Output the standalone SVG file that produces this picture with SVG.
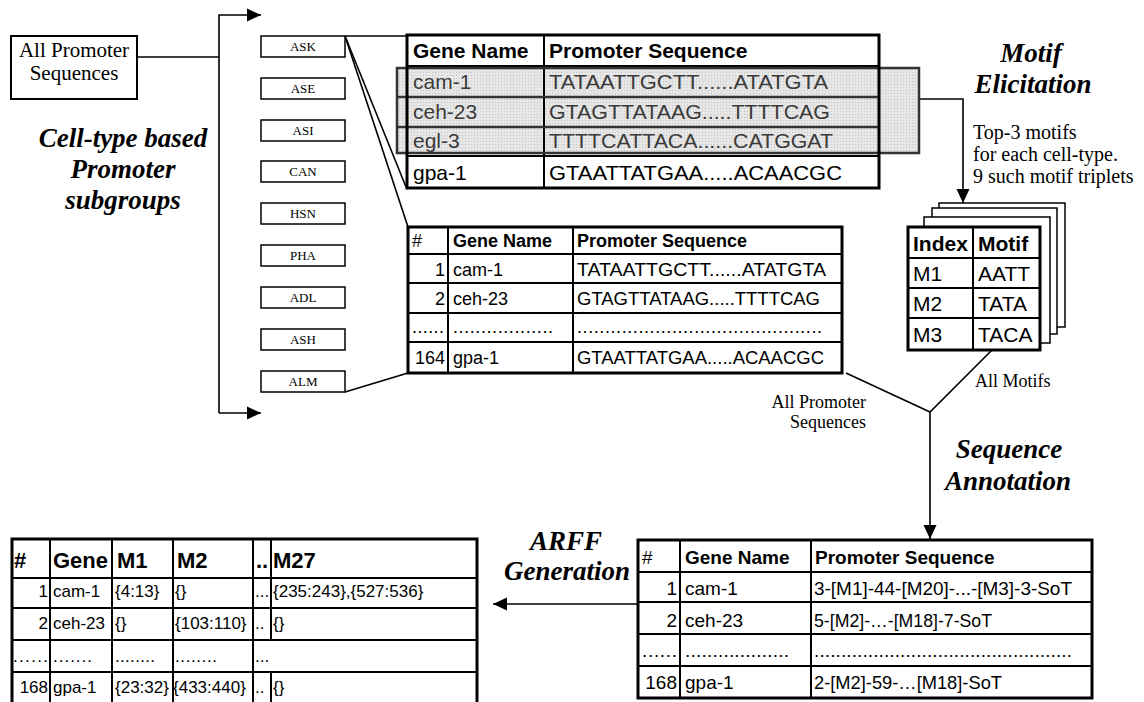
<svg xmlns="http://www.w3.org/2000/svg" width="1144" height="702" viewBox="0 0 1144 702">
<defs>
<marker id="ah" markerUnits="userSpaceOnUse" markerWidth="14" markerHeight="14" refX="14" refY="7" orient="auto"><path d="M0,0.5 L14,7 L0,13.5 Z" fill="#000"/></marker>
<pattern id="dots" width="3" height="3" patternUnits="userSpaceOnUse"><rect width="3" height="3" fill="#e6e6e6"/><rect width="1" height="1" fill="#c4c4c4"/></pattern>
</defs>
<style>
.serif{font-family:"Liberation Serif","Times New Roman",serif;fill:#000}
.head{font-family:"Liberation Serif","Times New Roman",serif;font-weight:bold;font-style:italic;font-size:27px;text-anchor:middle;fill:#000}
.sans{font-family:"Liberation Sans",Arial,sans-serif;fill:#000}
.b{font-weight:bold}
.r{text-anchor:end}
.m{text-anchor:middle}
.cell{fill:#fff;stroke:#000;stroke-width:1.5}
.lbl{font-family:"Liberation Serif","Times New Roman",serif;font-size:13px;text-anchor:middle;fill:#000}
.tbo{fill:none;stroke:#000;stroke-width:3}
.ln{stroke:#000;stroke-width:2;fill:none}
.conn{stroke:#000;stroke-width:1.6;fill:none}
.sheet{fill:#fff;stroke:#000;stroke-width:1.5}
.g{fill:#3a3a3a}
</style>

<g id="connectors">
<path class="conn" d="M137,57 L219,57"/>
<path class="conn" d="M219,413 L219,15 L261,15" marker-end="url(#ah)"/>
<path class="conn" d="M219,413 L261,413" marker-end="url(#ah)"/>
<path class="conn" d="M345,36 L407,36"/>
<path class="conn" d="M345,36 L406,187"/>
<path class="conn" d="M345,36 L408,227"/>
<path class="conn" d="M345,392 L408,373"/>
<path class="conn" d="M919,99 L963,99 L963,203" marker-end="url(#ah)"/>
<path class="conn" d="M846,373 L930,412 L992,350"/>
<path class="conn" d="M930,412 L930,539" marker-end="url(#ah)"/>
<path class="conn" d="M638,604 L493,604" marker-end="url(#ah)"/>
</g>

<g id="all-promoters">
<rect x="11" y="36" width="126" height="63" fill="#fff" stroke="#000" stroke-width="2"/>
<text class="serif m" x="74" y="57" font-size="21">All Promoter</text>
<text class="serif m" x="74" y="80" font-size="21">Sequences</text>
</g>

<g id="label-celltype">
<text class="head" x="123" y="147">Cell-type based</text>
<text class="head" x="123" y="178">Promoter</text>
<text class="head" x="123" y="209">subgroups</text>
</g>

<g id="cell-ASK"><rect class="cell" x="261" y="36" width="84" height="21"/><text class="lbl" x="303" y="51">ASK</text></g>
<g id="cell-ASE"><rect class="cell" x="261" y="78" width="84" height="21"/><text class="lbl" x="303" y="93">ASE</text></g>
<g id="cell-ASI"><rect class="cell" x="261" y="120" width="84" height="21"/><text class="lbl" x="303" y="135">ASI</text></g>
<g id="cell-CAN"><rect class="cell" x="261" y="161" width="84" height="21"/><text class="lbl" x="303" y="176">CAN</text></g>
<g id="cell-HSN"><rect class="cell" x="261" y="203" width="84" height="21"/><text class="lbl" x="303" y="218">HSN</text></g>
<g id="cell-PHA"><rect class="cell" x="261" y="245" width="84" height="21"/><text class="lbl" x="303" y="260">PHA</text></g>
<g id="cell-ADL"><rect class="cell" x="261" y="287" width="84" height="21"/><text class="lbl" x="303" y="302">ADL</text></g>
<g id="cell-ASH"><rect class="cell" x="261" y="329" width="84" height="21"/><text class="lbl" x="303" y="344">ASH</text></g>
<g id="cell-ALM"><rect class="cell" x="261" y="371" width="84" height="21"/><text class="lbl" x="303" y="386">ALM</text></g>

<g id="ask-table">
<rect x="407" y="35" width="472" height="153" fill="#fff"/>
<rect x="397" y="68" width="522" height="85" fill="url(#dots)"/>
<path class="ln" d="M407,66 H879 M407,156 H879 M544,35 V188"/>
<path d="M397,97 H879 M397,127 H879" stroke="#333" stroke-width="2.5" fill="none"/>
<text class="sans b" x="413" y="58" font-size="21">Gene Name</text>
<text class="sans b" x="549" y="58" font-size="21">Promoter Sequence</text>
<text class="sans g" x="413" y="89" font-size="21">cam-1</text>
<text class="sans g" x="549" y="89" font-size="21" textLength="279" lengthAdjust="spacingAndGlyphs">TATAATTGCTT......ATATGTA</text>
<text class="sans g" x="413" y="119" font-size="21">ceh-23</text>
<text class="sans g" x="549" y="119" font-size="21" textLength="281" lengthAdjust="spacingAndGlyphs">GTAGTTATAAG.....TTTTCAG</text>
<text class="sans g" x="413" y="148" font-size="21">egl-3</text>
<text class="sans g" x="549" y="148" font-size="21" textLength="284" lengthAdjust="spacingAndGlyphs">TTTTCATTACA......CATGGAT</text>
<text class="sans" x="413" y="180" font-size="21">gpa-1</text>
<text class="sans" x="549" y="180" font-size="21" textLength="293" lengthAdjust="spacingAndGlyphs">GTAATTATGAA.....ACAACGC</text>
<rect x="397" y="68" width="522" height="85" fill="none" stroke="#333" stroke-width="2.5"/>
<rect class="tbo" x="407" y="35" width="472" height="153"/>
</g>

<g id="full-table">
<rect x="408" y="227" width="434" height="146" fill="#fff"/>
<path class="ln" d="M408,254 H842 M408,283 H842 M408,313 H842 M408,342 H842 M448,227 V373 M573,227 V373"/>
<text class="sans" x="412" y="247" font-size="18">#</text>
<text class="sans b" x="453" y="247" font-size="18">Gene Name</text>
<text class="sans b" x="577" y="247" font-size="18">Promoter Sequence</text>
<text class="sans r" x="445" y="276" font-size="18">1</text>
<text class="sans" x="453" y="276" font-size="18">cam-1</text>
<text class="sans" x="577" y="276" font-size="18" textLength="249" lengthAdjust="spacingAndGlyphs">TATAATTGCTT......ATATGTA</text>
<text class="sans r" x="445" y="305" font-size="18">2</text>
<text class="sans" x="453" y="305" font-size="18">ceh-23</text>
<text class="sans" x="577" y="305" font-size="18" textLength="243" lengthAdjust="spacingAndGlyphs">GTAGTTATAAG.....TTTTCAG</text>
<text class="sans" x="412" y="333" font-size="18" textLength="32" lengthAdjust="spacing">......</text>
<text class="sans" x="453" y="333" font-size="18" textLength="100" lengthAdjust="spacing">..................</text>
<text class="sans" x="577" y="333" font-size="18" textLength="245" lengthAdjust="spacing">............................................</text>
<text class="sans r" x="445" y="364" font-size="18">164</text>
<text class="sans" x="453" y="364" font-size="18">gpa-1</text>
<text class="sans" x="577" y="364" font-size="18" textLength="247" lengthAdjust="spacingAndGlyphs">GTAATTATGAA.....ACAACGC</text>
<rect class="tbo" x="408" y="227" width="434" height="146"/>
</g>

<g id="label-motif-elicitation">
<text class="head" x="1031" y="62">Motif</text>
<text class="head" x="1033" y="93">Elicitation</text>
<text class="serif" x="973" y="139" font-size="20">Top-3 motifs</text>
<text class="serif" x="973" y="161" font-size="20">for each cell-type.</text>
<text class="serif" x="973" y="183" font-size="20">9 such motif triplets</text>
</g>

<g id="motif-stack">
<rect class="sheet" x="939" y="203" width="126" height="124"/>
<rect class="sheet" x="932" y="208" width="125" height="126"/>
<rect class="sheet" x="924" y="217" width="126" height="126"/>
<rect x="908" y="227" width="132" height="123" fill="#fff"/>
<path class="ln" d="M908,258 H1040 M908,288 H1040 M908,318 H1040 M973,227 V350"/>
<text class="sans b" x="913" y="251" font-size="21">Index</text>
<text class="sans b" x="978" y="251" font-size="21">Motif</text>
<text class="sans" x="913" y="281" font-size="21">M1</text>
<text class="sans" x="978" y="281" font-size="21">AATT</text>
<text class="sans" x="913" y="311" font-size="21">M2</text>
<text class="sans" x="978" y="311" font-size="21">TATA</text>
<text class="sans" x="913" y="342" font-size="21">M3</text>
<text class="sans" x="978" y="342" font-size="21">TACA</text>
<rect class="tbo" x="908" y="227" width="132" height="123"/>
</g>

<g id="label-inputs">
<text class="serif" x="975" y="387" font-size="18">All Motifs</text>
<text class="serif r" x="866" y="408" font-size="18">All Promoter</text>
<text class="serif r" x="866" y="428" font-size="18">Sequences</text>
</g>

<g id="label-sequence-annotation">
<text class="head" x="1009" y="458">Sequence</text>
<text class="head" x="1008" y="490">Annotation</text>
</g>

<g id="annotated-table">
<rect x="638" y="540" width="454" height="158" fill="#fff"/>
<path class="ln" d="M638,572 H1092 M638,602 H1092 M638,634 H1092 M638,666 H1092 M680,540 V698 M811,540 V698"/>
<text class="sans" x="642" y="564" font-size="19">#</text>
<text class="sans b" x="685" y="564" font-size="19">Gene Name</text>
<text class="sans b" x="815" y="564" font-size="19">Promoter Sequence</text>
<text class="sans r" x="677" y="595" font-size="19">1</text>
<text class="sans" x="685" y="595" font-size="19">cam-1</text>
<text class="sans" x="814" y="595" font-size="19" textLength="258" lengthAdjust="spacingAndGlyphs">3-[M1]-44-[M20]-...-[M3]-3-SoT</text>
<text class="sans r" x="677" y="627" font-size="19">2</text>
<text class="sans" x="685" y="627" font-size="19">ceh-23</text>
<text class="sans" x="814" y="627" font-size="19" textLength="178" lengthAdjust="spacingAndGlyphs">5-[M2]-…-[M18]-7-SoT</text>
<text class="sans" x="642" y="657" font-size="19" textLength="35" lengthAdjust="spacing">......</text>
<text class="sans" x="685" y="657" font-size="19" textLength="104" lengthAdjust="spacing">...................</text>
<text class="sans" x="814" y="657" font-size="19" textLength="258" lengthAdjust="spacing">................................................</text>
<text class="sans r" x="677" y="689" font-size="19">168</text>
<text class="sans" x="685" y="689" font-size="19">gpa-1</text>
<text class="sans" x="814" y="689" font-size="19" textLength="188" lengthAdjust="spacingAndGlyphs">2-[M2]-59-…[M18]-SoT</text>
<rect class="tbo" x="638" y="540" width="454" height="158"/>
</g>

<g id="label-arff">
<text class="head" x="566" y="550">ARFF</text>
<text class="head" x="567" y="580">Generation</text>
</g>

<g id="arff-table">
<rect x="12" y="539" width="465" height="166" fill="#fff"/>
<path class="ln" d="M12,578 H477 M12,608 H477 M12,640 H477 M12,672 H477 M50,539 V705 M112,539 V705 M173,539 V705 M253,539 V705 M271,539 V640 M271,672 V705"/>
<text class="sans b" x="14" y="568" font-size="22">#</text>
<text class="sans b" x="53" y="568" font-size="22">Gene</text>
<text class="sans b" x="117" y="568" font-size="22">M1</text>
<text class="sans b" x="177" y="568" font-size="22">M2</text>
<text class="sans b" x="256" y="568" font-size="22">..</text>
<text class="sans b" x="273" y="568" font-size="22">M27</text>
<text class="sans r" x="48" y="597" font-size="17">1</text>
<text class="sans" x="53" y="597" font-size="17">cam-1</text>
<text class="sans" x="115" y="597" font-size="17">{4:13}</text>
<text class="sans" x="175" y="597" font-size="17">{}</text>
<text class="sans" x="255" y="597" font-size="17">...</text>
<text class="sans" x="273" y="597" font-size="17">{235:243},{527:536}</text>
<text class="sans r" x="48" y="629" font-size="17">2</text>
<text class="sans" x="53" y="629" font-size="17">ceh-23</text>
<text class="sans" x="115" y="629" font-size="17">{}</text>
<text class="sans" x="175" y="629" font-size="17">{103:110}</text>
<text class="sans" x="255" y="629" font-size="17">..</text>
<text class="sans" x="273" y="629" font-size="17">{}</text>
<text class="sans" x="13" y="662" font-size="17" textLength="35" lengthAdjust="spacing">......</text>
<text class="sans" x="53" y="662" font-size="17" textLength="39" lengthAdjust="spacing">.......</text>
<text class="sans" x="115" y="662" font-size="17" textLength="40" lengthAdjust="spacing">........</text>
<text class="sans" x="175" y="662" font-size="17" textLength="42" lengthAdjust="spacing">........</text>
<text class="sans" x="255" y="662" font-size="17">...</text>
<text class="sans r" x="48" y="693" font-size="17">168</text>
<text class="sans" x="53" y="693" font-size="17">gpa-1</text>
<text class="sans" x="115" y="693" font-size="17">{23:32}</text>
<text class="sans" x="173" y="693" font-size="17">{433:440}</text>
<text class="sans" x="255" y="693" font-size="17">..</text>
<text class="sans" x="273" y="693" font-size="17">{}</text>
<rect class="tbo" x="12" y="539" width="465" height="166"/>
</g>
</svg>
